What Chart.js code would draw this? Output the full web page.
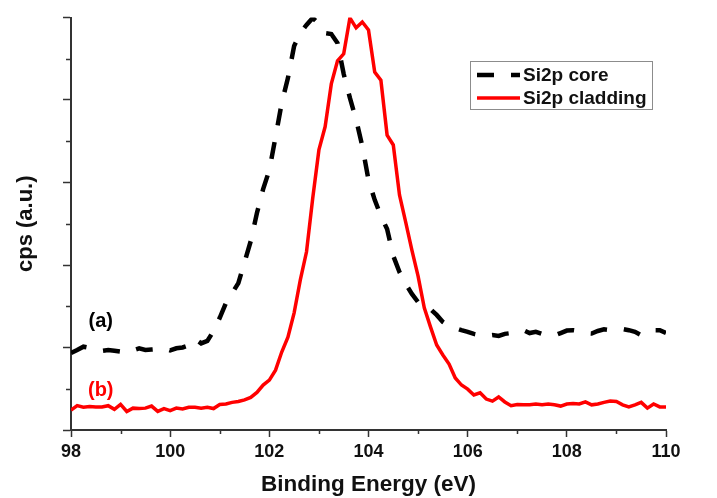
<!DOCTYPE html>
<html>
<head>
<meta charset="utf-8">
<script src="https://cdn.jsdelivr.net/npm/chart.js@4/dist/chart.umd.min.js"></script>
<style>
	html, body { margin: 0; padding: 0; background: #fff; }
	canvas { display: block; }
</style>
</head>
<body>
<canvas id="chart" width="717" height="498"></canvas>
<script>
/*
 * Binding energy grid (eV), one sample every 0.125 eV.
 */
const energy = [
	98, 98.125, 98.25, 98.375, 98.5, 98.625, 98.75, 98.875,
	99, 99.125, 99.25, 99.375, 99.5, 99.625, 99.75, 99.875,
	100, 100.125, 100.25, 100.375, 100.5, 100.625, 100.75, 100.875,
	101, 101.125, 101.25, 101.375, 101.5, 101.625, 101.75, 101.875,
	102, 102.125, 102.25, 102.375, 102.5, 102.625, 102.75, 102.875,
	103, 103.125, 103.25, 103.375, 103.5, 103.625, 103.75, 103.875,
	104, 104.125, 104.25, 104.375, 104.5, 104.625, 104.75, 104.875,
	105, 105.125, 105.25, 105.375, 105.5, 105.625, 105.75, 105.875,
	106, 106.125, 106.25, 106.375, 106.5, 106.625, 106.75, 106.875,
	107, 107.125, 107.25, 107.375, 107.5, 107.625, 107.75, 107.875,
	108, 108.125, 108.25, 108.375, 108.5, 108.625, 108.75, 108.875,
	109, 109.125, 109.25, 109.375, 109.5, 109.625, 109.75, 109.875,
	110,
];

/* Si2p counts from the fibre core (a.u.). */
const core = [
	1.87, 1.94, 2.02, 1.99, 1.94, 1.92, 1.94, 1.92,
	1.90, 1.96, 1.93, 1.98, 1.94, 1.95, 1.96, 1.98,
	1.93, 1.98, 2.00, 2.05, 2.21, 2.10, 2.16, 2.40,
	2.72, 3.08, 3.32, 3.56, 4.07, 4.58, 5.26, 5.84,
	6.30, 7.10, 7.93, 8.53, 9.31, 9.62, 9.82, 9.99,
	9.85, 9.62, 9.60, 9.38, 8.63, 8.05, 7.53, 6.88,
	6.06, 5.58, 5.19, 4.87, 4.22, 3.83, 3.54, 3.30,
	3.10, 2.96, 2.93, 2.79, 2.62, 2.52, 2.47, 2.42,
	2.38, 2.33, 2.30, 2.28, 2.30, 2.28, 2.33, 2.35,
	2.38, 2.42, 2.35, 2.38, 2.33, 2.30, 2.29, 2.35,
	2.41, 2.42, 2.40, 2.35, 2.34, 2.40, 2.44, 2.42,
	2.45, 2.45, 2.42, 2.38, 2.30, 2.38, 2.42, 2.42,
	2.35,
];

/* Si2p counts from the cladding (a.u.). */
const cladding = [
	0.48, 0.59, 0.55, 0.57, 0.56, 0.56, 0.59, 0.50,
	0.62, 0.45, 0.53, 0.52, 0.53, 0.58, 0.45, 0.52,
	0.47, 0.53, 0.51, 0.55, 0.55, 0.53, 0.55, 0.52,
	0.62, 0.63, 0.67, 0.69, 0.73, 0.79, 0.91, 1.09,
	1.21, 1.45, 1.89, 2.25, 2.84, 3.64, 4.32, 5.62,
	6.79, 7.35, 8.39, 8.95, 9.12, 9.99, 9.75, 9.89,
	9.70, 8.68, 8.48, 7.15, 6.91, 5.70, 5.04, 4.36,
	3.73, 2.96, 2.50, 2.06, 1.82, 1.60, 1.26, 1.09,
	0.99, 0.85, 0.90, 0.75, 0.70, 0.80, 0.68, 0.59,
	0.62, 0.61, 0.61, 0.63, 0.61, 0.63, 0.61, 0.58,
	0.63, 0.64, 0.63, 0.68, 0.61, 0.63, 0.67, 0.70,
	0.69, 0.61, 0.56, 0.61, 0.67, 0.53, 0.63, 0.56,
	0.56,
];

const seriesNames = ['Si2p core', 'Si2p cladding'];

/* Curve tags placed next to each trace, in data coordinates. */
const tagText = ['(a)', '(b)'];
const tagEnergy = [98.6, 98.6];
const tagCounts = [2.64, 0.97];

const fontFamily = '"Liberation Sans", Arial, sans-serif';
const axisColour = '#333';

function pairs(xs, ys)
{
	return xs.map((x, i) => ({ x: x, y: ys[i] }));
}

/*
 * Short minor ticks half-way between the major ones, pointing out of the
 * plot like the major ticks drawn by the scales themselves.
 */
const minorTicks = {
	id: 'minorTicks',
	afterDraw(chart) {
		const ctx = chart.ctx;
		const xs = chart.scales.x;
		const ys = chart.scales.y;
		const area = chart.chartArea;
		ctx.save();
		ctx.strokeStyle = axisColour;
		ctx.lineWidth = 1.5;
		ctx.beginPath();
		for (let i = 0; i + 1 < xs.ticks.length; i++) {
			const v = (xs.ticks[i].value + xs.ticks[i + 1].value) / 2;
			const px = Math.round(xs.getPixelForValue(v)) + 0.5;
			ctx.moveTo(px, area.bottom);
			ctx.lineTo(px, area.bottom + 4);
		}
		for (let i = 0; i + 1 < ys.ticks.length; i++) {
			const v = (ys.ticks[i].value + ys.ticks[i + 1].value) / 2;
			const py = Math.round(ys.getPixelForValue(v)) + 0.5;
			ctx.moveTo(area.left, py);
			ctx.lineTo(area.left - 5, py);
		}
		ctx.stroke();
		ctx.restore();
	}
};

/*
 * Boxed legend in the upper right, using each dataset's own stroke.
 */
const legendBox = {
	id: 'legendBox',
	afterDraw(chart) {
		const ctx = chart.ctx;
		ctx.save();
		ctx.strokeStyle = '#8c8c8c';
		ctx.lineWidth = 1;
		ctx.strokeRect(470.5, 61.5, 182, 48);
		chart.data.datasets.forEach((ds, i) => {
			const y = 75 + i * 23;
			ctx.beginPath();
			ctx.setLineDash(ds.borderDash || []);
			ctx.lineDashOffset = 0;
			ctx.lineCap = 'butt';
			ctx.lineWidth = ds.borderWidth;
			ctx.strokeStyle = ds.borderColor;
			ctx.moveTo(477, y);
			ctx.lineTo(520, y);
			ctx.stroke();
			ctx.setLineDash([]);
			ctx.fillStyle = '#111';
			ctx.font = 'bold 19px ' + fontFamily;
			ctx.textBaseline = 'middle';
			ctx.textAlign = 'left';
			ctx.fillText(ds.label, 523, y + 1);
		});
		ctx.restore();
	}
};

/*
 * The "(a)" and "(b)" tags, coloured like the trace they name.
 */
const curveTags = {
	id: 'curveTags',
	afterDraw(chart) {
		const ctx = chart.ctx;
		ctx.save();
		ctx.font = 'bold 20px ' + fontFamily;
		ctx.textAlign = 'center';
		ctx.textBaseline = 'middle';
		tagText.forEach((t, i) => {
			ctx.fillStyle = chart.data.datasets[i].borderColor;
			ctx.fillText(t,
				chart.scales.x.getPixelForValue(tagEnergy[i]),
				chart.scales.y.getPixelForValue(tagCounts[i]));
		});
		ctx.restore();
	}
};

function drawChart()
{
	new Chart(document.getElementById('chart'), {
		type: 'line',
		data: {
			datasets: [{
				label: seriesNames[0],
				data: pairs(energy, core),
				borderColor: '#000',
				borderWidth: 4.5,
				borderDash: [17, 17],
				borderCapStyle: 'butt',
				pointRadius: 0,
				tension: 0,
			}, {
				label: seriesNames[1],
				data: pairs(energy, cladding),
				borderColor: '#ff0000',
				borderWidth: 3.5,
				pointRadius: 0,
				tension: 0,
			}]
		},
		options: {
			responsive: false,
			animation: false,
			events: [],
			layout: {
				padding: { top: 17.5, right: 51, bottom: 0, left: 0 },
			},
			plugins: {
				legend: { display: false },
				tooltip: { enabled: false },
			},
			scales: {
				x: {
					type: 'linear',
					min: 98,
					max: 110,
					ticks: {
						stepSize: 2,
						padding: 4,
						maxRotation: 0,
						color: '#111',
						font: { family: fontFamily, weight: 'bold', size: 18 },
					},
					grid: {
						drawOnChartArea: false,
						tickLength: 7,
						tickWidth: 1.5,
						tickColor: axisColour,
					},
					border: { color: axisColour, width: 2 },
					title: {
						display: true,
						text: 'Binding Energy (eV)',
						color: '#111',
						padding: 0,
						font: { family: fontFamily, weight: 'bold', size: 22.5 },
					},
					afterFit: (scale) => { scale.height = 68; },
				},
				y: {
					min: 0,
					max: 10,
					ticks: {
						stepSize: 2,
						callback: () => '',
					},
					grid: {
						drawOnChartArea: false,
						tickLength: 8,
						tickWidth: 1.5,
						tickColor: axisColour,
					},
					border: { color: axisColour, width: 2 },
					title: {
						display: true,
						text: 'cps (a.u.)',
						color: '#111',
						padding: { top: 13, bottom: 0 },
						font: { family: fontFamily, weight: 'bold', size: 22 },
					},
					afterFit: (scale) => { scale.width = 71; },
				},
			},
		},
		plugins: [minorTicks, legendBox, curveTags],
	});
}

window.addEventListener('load', drawChart);
</script>
</body>
</html>
